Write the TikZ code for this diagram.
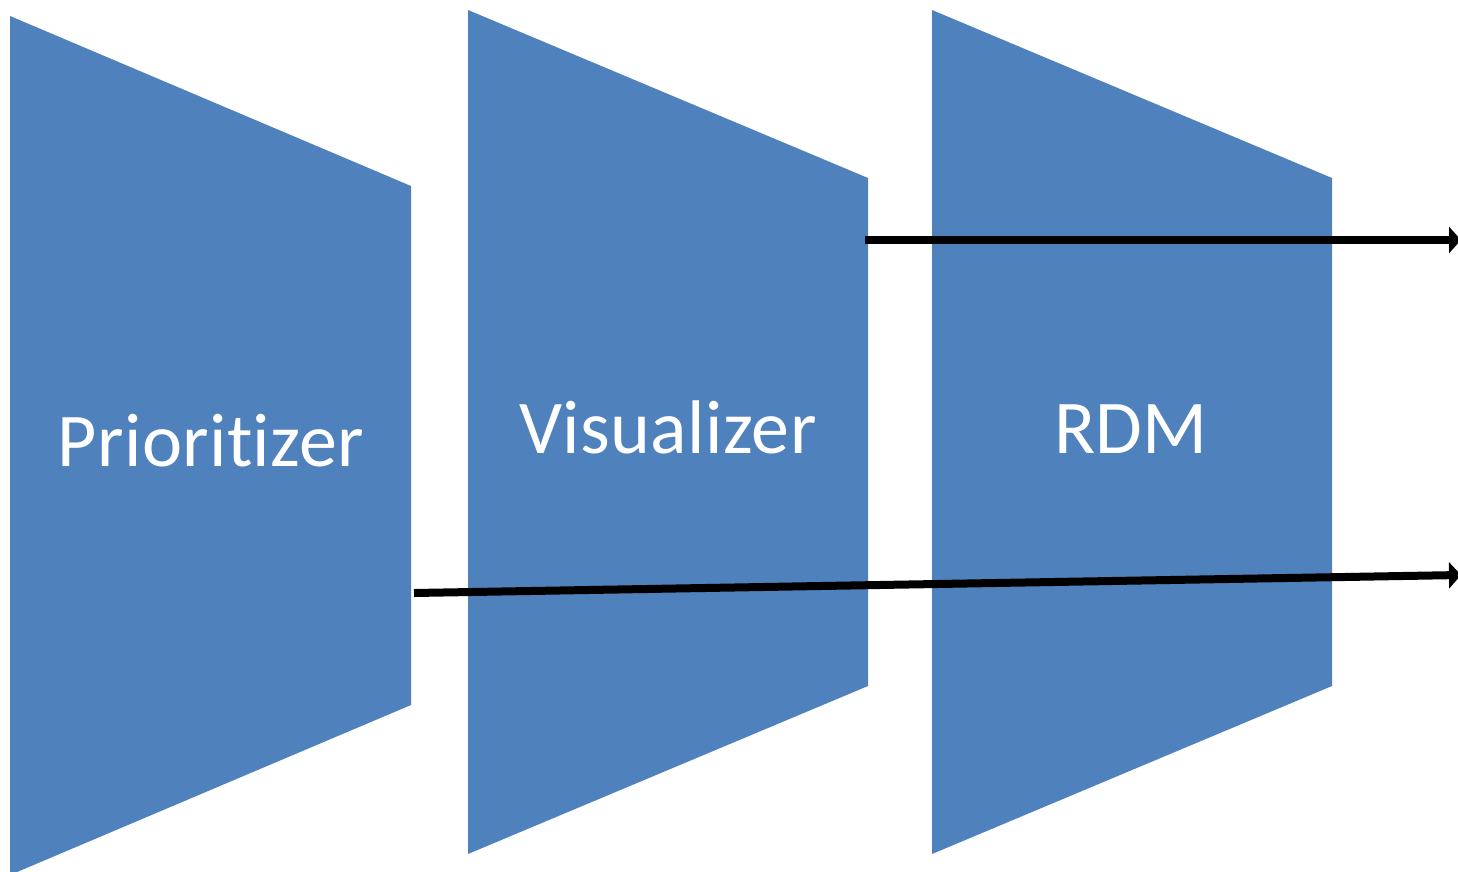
\documentclass[tikz,border=0pt]{standalone}
\usepackage{fontspec}
\setmainfont{Carlito}[Ligatures={NoCommon}, LetterSpace=0.5]
\usetikzlibrary{arrows.meta}
\definecolor{blk}{HTML}{4F81BD}
\tikzset{
  block/.style={fill=blk, draw=none},
  lbl/.style={text=white, font=\fontsize{76}{80}\selectfont, inner sep=0pt, anchor=base},
  flow/.style={line width=8pt, -{Triangle[length=12pt,width=26pt]}}
}
\begin{document}
\begin{tikzpicture}[x=1pt,y=-1pt]
\clip (0,0) rectangle (1458,872);
\useasboundingbox (0,0) rectangle (1458,872);
\fill[white] (0,0) rectangle (1458,872);
\path[block] (10,16) -- (411,186) -- (411,705) -- (10,875) -- cycle;
\path[block] (468,10) -- (868,178) -- (868,686) -- (468,854) -- cycle;
\path[block] (932,10) -- (1332,178) -- (1332,686) -- (932,854) -- cycle;
\node[lbl] (prio) at (211,466) {Prioritizer};
\node[lbl] (vis) at (668,453) {Visualizer};
\node[lbl] (rdm) at (1131,453) {RDM};
\coordinate (a1s) at (865,240);
\coordinate (a1e) at (1461,240);
\coordinate (a2s) at (414,593);
\coordinate (a2e) at (1461,575);
\draw[flow] (a1s) -- (a1e);
\draw[flow] (a2s) -- (a2e);
\end{tikzpicture}
\end{document}
